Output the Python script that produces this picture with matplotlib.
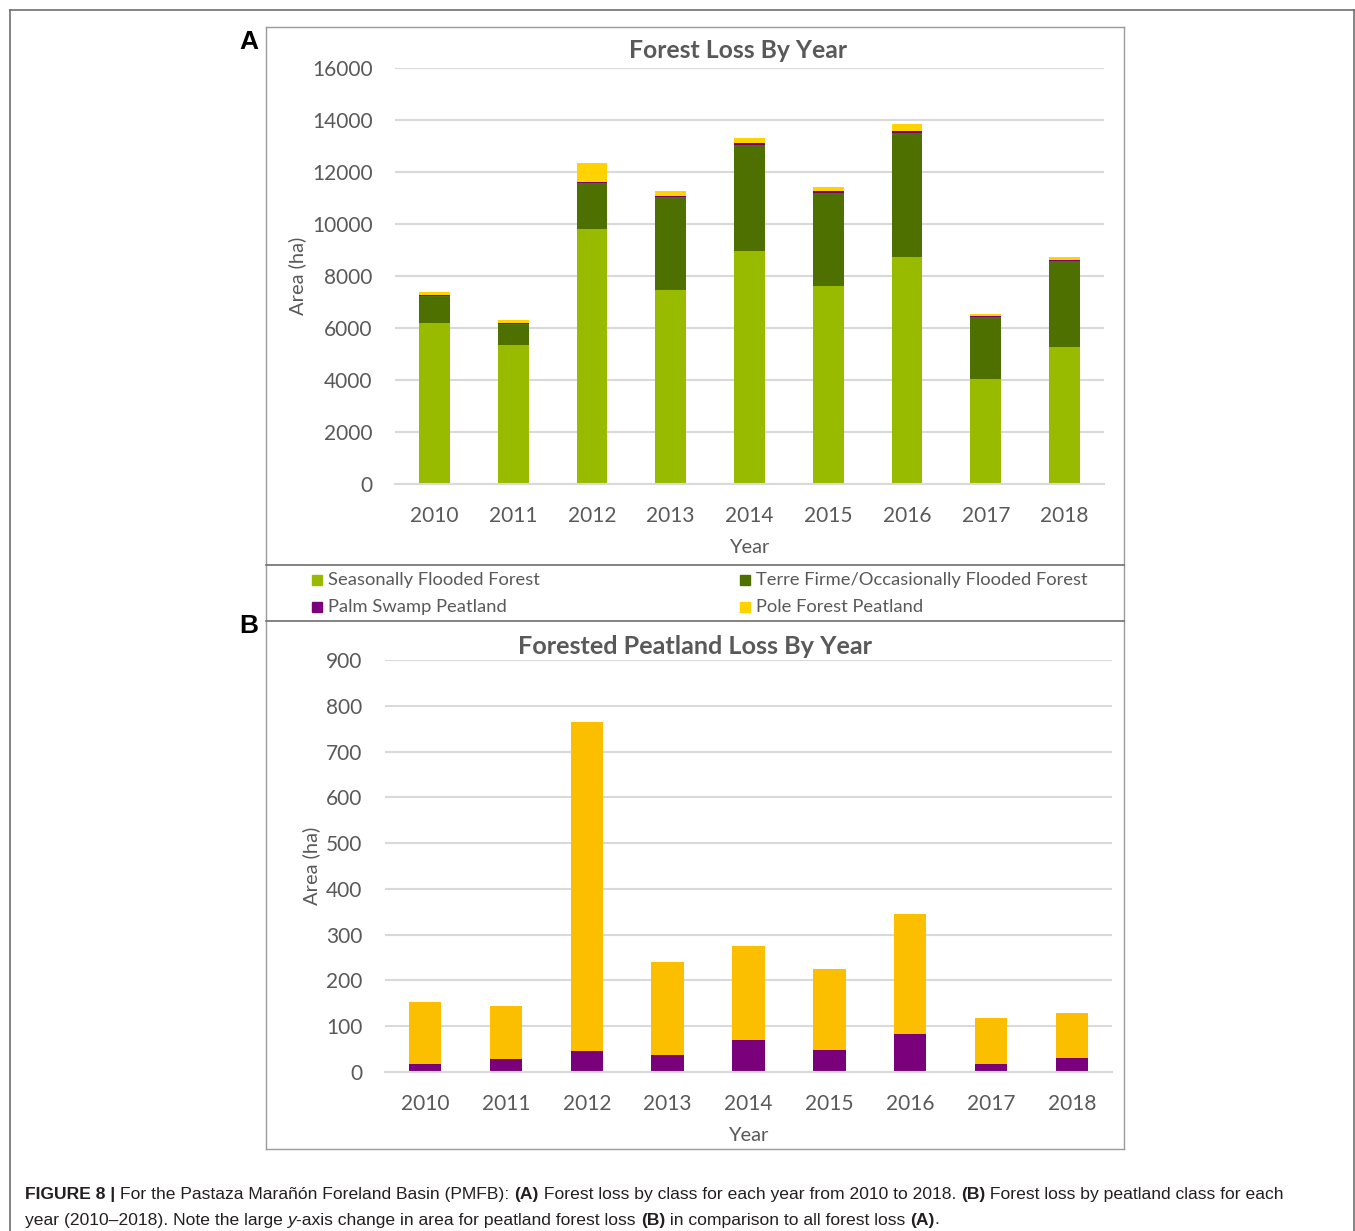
import numpy as np
import matplotlib.pyplot as plt
from matplotlib.lines import Line2D

# --- data ---
years = ['2010', '2011', '2012', '2013', '2014', '2015', '2016', '2017', '2018']
seasonal = [6200, 5350, 9800, 7450, 8960, 7620, 8720, 4040, 5270]
terre_firme = [1050, 800, 1770, 3590, 4090, 3590, 4770, 2400, 3320]
palm_swamp = [18, 29, 45, 38, 69, 47, 83, 18, 31]
pole_forest = [134, 116, 719, 202, 207, 178, 262, 99, 98]

labels = ['Seasonally Flooded Forest', 'Terre Firme/Occasionally Flooded Forest',
          'Palm Swamp Peatland', 'Pole Forest Peatland']
colors = ['#98BB00', '#4E7000', '#7B007B', '#FFD200']
pole_b = '#FBBF00'

W, H = 1355, 1231
GRAY = '#595959'
FONT = 'Lato'

fig = plt.figure(figsize=(W / 100, H / 100), dpi=100)


def fx(px):
    return px / W


def fy(py):
    return 1 - py / H


def style_axes(ax, ymax, step):
    ax.set_xlim(-0.5, len(years) - 0.5)
    ax.set_ylim(0, ymax)
    ax.set_yticks(np.arange(0, ymax + 1, step))
    ax.set_xticks(range(len(years)))
    ax.set_xticklabels(years)
    for s in ['top', 'right', 'left']:
        ax.spines[s].set_visible(False)
    ax.spines['bottom'].set_color('#D9D9D9')
    ax.spines['bottom'].set_linewidth(1.5)
    ax.yaxis.grid(True, color='#D9D9D9', linewidth=1.5)
    ax.set_axisbelow(True)
    ax.tick_params(length=0, labelsize=15, labelcolor=GRAY, pad=16)
    for t in ax.get_xticklabels() + ax.get_yticklabels():
        t.set_family(FONT)
    ax.set_xlabel('Year', fontsize=14.5, color=GRAY, family=FONT, labelpad=9.5)
    ax.set_ylabel('Area (ha)', fontsize=14.5, color=GRAY, family=FONT, labelpad=4)


x = np.arange(len(years))

# --- panel A ---
ax1 = fig.add_axes([fx(395), fy(484), fx(1104) - fx(395), fy(68) - fy(484)])
b = np.zeros(len(years))
for vals, c in zip([seasonal, terre_firme, palm_swamp, pole_forest], colors):
    ax1.bar(x, vals, width=0.39, bottom=b, color=c)
    b += np.array(vals)
style_axes(ax1, 16000, 2000)

# --- panel B ---
ax2 = fig.add_axes([fx(384.6), fy(1072), fx(1112.4) - fx(384.6), fy(660) - fy(1072)])
ax2.bar(x, palm_swamp, width=0.4, color=colors[2])
ax2.bar(x, pole_forest, width=0.4, bottom=palm_swamp, color=pole_b)
style_axes(ax2, 900, 100)

# titles and panel letters
fig.text(fx(738), fy(51), 'Forest Loss By Year', fontsize=17.8, fontweight='bold',
         color=GRAY, family=FONT, ha='center', va='center')
fig.text(fx(695), fy(647), 'Forested Peatland Loss By Year', fontsize=18.2, fontweight='bold',
         color=GRAY, family=FONT, ha='center', va='center')
fig.text(fx(249), fy(42), 'A', fontsize=19, fontweight='bold', family='Liberation Sans',
         ha='center', va='center')
fig.text(fx(249), fy(626), 'B', fontsize=19, fontweight='bold', family='Liberation Sans',
         ha='center', va='center')

# legend
leg_pos = [(317, 580), (745, 580), (317, 607), (745, 607)]
for (lx, ly), lab, c in zip(leg_pos, labels, colors):
    fig.add_artist(Line2D([fx(lx)], [fy(ly)], marker='s', markersize=7.5, color=c,
                          linestyle='none', transform=fig.transFigure))
    fig.text(fx(lx + 11), fy(ly), lab, fontsize=13.2, color=GRAY, family=FONT,
             ha='left', va='center')

# frames
def hline(x0, x1, y, c, lw):
    fig.add_artist(Line2D([fx(x0), fx(x1)], [fy(y), fy(y)], color=c, lw=lw,
                          transform=fig.transFigure))


def vline(x0, y0, y1, c, lw):
    fig.add_artist(Line2D([fx(x0), fx(x0)], [fy(y0), fy(y1)], color=c, lw=lw,
                          transform=fig.transFigure))


outer = '#6E6E6E'
hline(10, 1354, 10, outer, 1.2)
vline(10, 10, 1240, outer, 1.2)
vline(1354, 10, 1240, outer, 1.2)

inner = '#9A9A9A'
hline(266, 1124, 27, inner, 1.0)
hline(266, 1124, 1149, inner, 1.0)
vline(266, 27, 1149, inner, 1.0)
vline(1124, 27, 1149, inner, 1.0)
hline(266, 1124, 565, '#6E6E6E', 1.2)
hline(266, 1124, 621, '#6E6E6E', 1.2)

# caption with mixed styles
caption = [
    [('FIGURE 8 | ', 'bold', 'normal'),
     ('For the Pastaza Marañón Foreland Basin (PMFB): ', 'normal', 'normal'),
     ('(A)', 'bold', 'normal'),
     (' Forest loss by class for each year from 2010 to 2018. ', 'normal', 'normal'),
     ('(B)', 'bold', 'normal'),
     (' Forest loss by peatland class for each', 'normal', 'normal')],
    [('year (2010–2018). Note the large ', 'normal', 'normal'),
     ('y', 'normal', 'italic'),
     ('-axis change in area for peatland forest loss ', 'normal', 'normal'),
     ('(B)', 'bold', 'normal'),
     (' in comparison to all forest loss ', 'normal', 'normal'),
     ('(A)', 'bold', 'normal'),
     ('.', 'normal', 'normal')],
]
renderer = fig.canvas.get_renderer()
for line, ly in zip(caption, [1194, 1220]):
    cx = fx(25)
    for s, w, st in line:
        t = fig.text(cx, fy(ly), s, fontsize=12.6, fontweight=w, style=st,
                     family='Liberation Sans', color='#231F20', va='center', ha='left')
        cx = t.get_window_extent(renderer=renderer).x1 / W

fig.savefig('out.png', dpi=100)
